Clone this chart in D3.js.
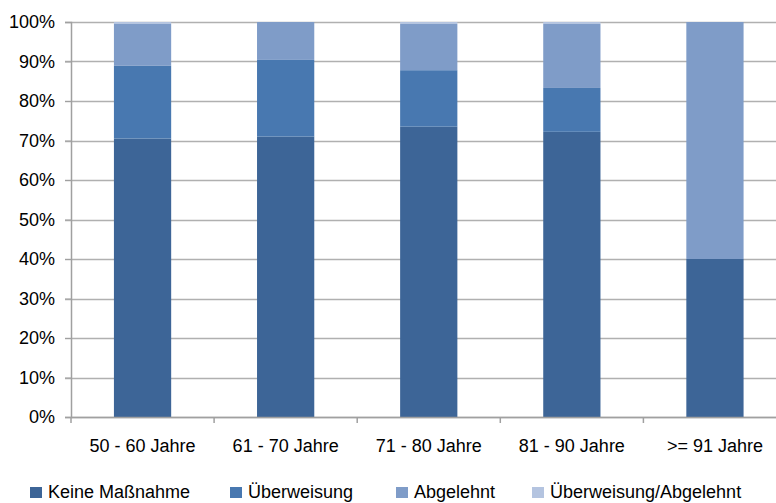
<!DOCTYPE html>
<html><head><meta charset="utf-8">
<script src="https://cdn.jsdelivr.net/npm/d3@7"></script>
<style>body{margin:0;background:#fff}svg{display:block;font-family:"Liberation Sans",Arial,sans-serif}</style>
</head><body><svg id="c" width="776" height="503"></svg>
<script>
const categories = ["50 - 60 Jahre","61 - 70 Jahre","71 - 80 Jahre","81 - 90 Jahre",">= 91 Jahre"];
const seriesNames = ["Keine Maßnahme","Überweisung","Abgelehnt","Überweisung/Abgelehnt"];
const keine = [70.5, 71.0, 73.5, 72.2, 40.0];
const ueberweisung = [18.4, 19.4, 14.3, 11.1, 0];
const abgelehnt = [10.6, 9.6, 11.7, 16.2, 60.0];
const uebAbg = [0.5, 0, 0.5, 0.5, 0];
const yTicks = [0,10,20,30,40,50,60,70,80,90,100];
const colors = ["#3d6597","#4878b0","#7f9cc8","#b4c4e0"];

(function(){
const svg = d3.select("#c");
const mLeft = 71, mTop = 22, mBottom = 417, mRight = 786.5;
const x = d3.scaleBand().domain(categories).range([mLeft, mRight]).padding(0);
const y = d3.scaleLinear().domain([0,100]).range([mBottom, mTop]);

const rows = categories.map((c,i)=>({cat:c, s0:keine[i], s1:ueberweisung[i], s2:abgelehnt[i], s3:uebAbg[i]}));
const stack = d3.stack().keys(["s0","s1","s2","s3"])(rows);

svg.append("g").selectAll("line").data(yTicks).join("line")
  .attr("x1", mLeft-6).attr("x2", mRight)
  .attr("y1", d=>Math.round(y(d))+0.5).attr("y2", d=>Math.round(y(d))+0.5)
  .attr("stroke", "#b0b0b0").attr("stroke-width", 1.6);

const bw = x.bandwidth()*0.4;
svg.append("g").selectAll("g").data(stack).join("g")
  .attr("fill", (d,i)=>colors[i])
  .selectAll("rect").data(d=>d).join("rect")
  .attr("x", d=>x(d.data.cat)+(x.bandwidth()-bw)/2)
  .attr("width", bw)
  .attr("y", d=>y(d[1]))
  .attr("height", d=>Math.max(0, y(d[0])-y(d[1])));

const yAxis = svg.append("g").attr("transform", `translate(${mLeft},0)`)
  .call(d3.axisLeft(y).tickValues(yTicks).tickFormat(d=>d+"%").tickSize(6).tickPadding(10));
yAxis.select(".domain").attr("stroke","#a0a0a0").attr("stroke-width",1.5);
yAxis.selectAll(".tick line").attr("stroke","#a0a0a0");
yAxis.selectAll("text").attr("font-size","18px").attr("fill","#000").attr("font-family","Liberation Sans, Arial, sans-serif");

const xAxis = svg.append("g").attr("transform", `translate(0,${mBottom})`)
  .call(d3.axisBottom(x).tickSize(0).tickPadding(22));
xAxis.select(".domain").attr("stroke","#a0a0a0").attr("stroke-width",1.5);
xAxis.selectAll("text").attr("font-size","18px").attr("fill","#000").attr("font-family","Liberation Sans, Arial, sans-serif");
svg.append("g").selectAll("line").data(categories.map(c=>x(c)).concat([mRight])).join("line")
  .attr("x1", d=>d).attr("x2", d=>d).attr("y1", mBottom).attr("y2", mBottom+6)
  .attr("stroke","#a0a0a0").attr("stroke-width",1.5);

const legX = [30, 230, 396, 532];
const lg = svg.append("g").selectAll("g").data(seriesNames).join("g")
  .attr("transform", (d,i)=>`translate(${legX[i]},487)`);
lg.append("rect").attr("width",12).attr("height",11).attr("fill",(d,i)=>colors[i]);
lg.append("text").attr("x",18).attr("y",11).attr("font-size","18px").attr("fill","#000").text(d=>d);
})();
</script></body></html>
